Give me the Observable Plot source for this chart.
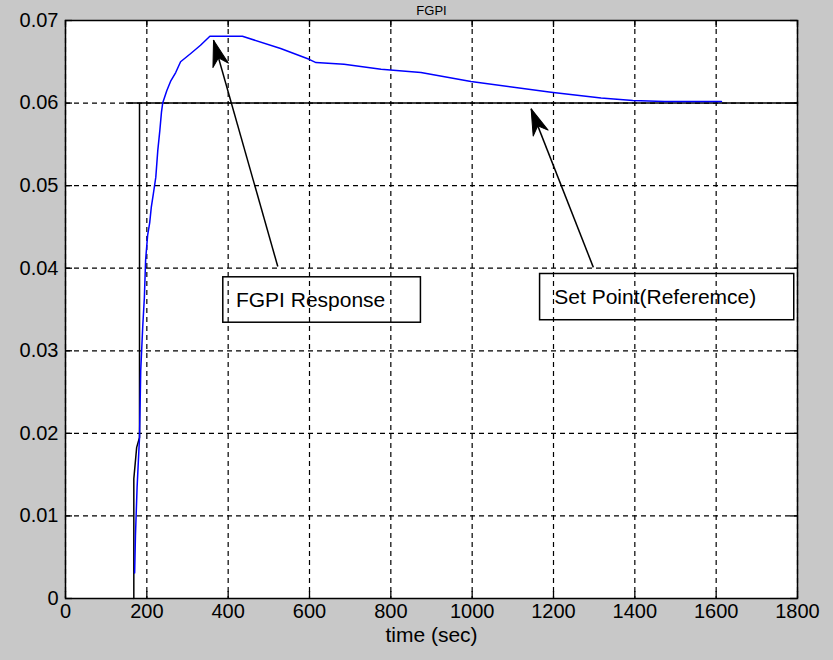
<!DOCTYPE html>
<html><head><meta charset="utf-8">
<script src="https://cdn.jsdelivr.net/npm/d3@7"></script>
<script src="https://cdn.jsdelivr.net/npm/@observablehq/plot@0.6"></script>
<style>
html,body{margin:0;padding:0;background:#c8c8c8;}
#chart{width:833px;height:660px;overflow:hidden;}
</style></head><body><div id="chart"></div>
<script>
// FGPI response (blue)
const responseTime  = [170, 172, 176, 182, 185, 190, 194, 197, 202, 207, 211, 216, 222, 227, 232, 236, 239, 249, 259, 271, 283, 308, 332, 355, 435, 529, 599, 616, 685, 776, 874, 997, 1194, 1317, 1395, 1473, 1613];
const responseValue = [0.0031, 0.0076, 0.0134, 0.0195, 0.0276, 0.033, 0.0365, 0.041, 0.044, 0.0455, 0.0474, 0.049, 0.051, 0.0543, 0.0567, 0.0589, 0.060, 0.0615, 0.0627, 0.0637, 0.0650, 0.066, 0.067, 0.0681, 0.0681, 0.0666, 0.0653, 0.0649, 0.0647, 0.0641, 0.0637, 0.0626, 0.0613, 0.0606, 0.0603, 0.0602, 0.0602];
// set point / reference (black)
const referenceTime  = [168, 168, 175, 182, 182, 150, 1800];
const referenceValue = [0, 0.0145, 0.0183, 0.0195, 0.06, 0.06, 0.06];
// axes
const xTicks = [0, 200, 400, 600, 800, 1000, 1200, 1400, 1600, 1800];
const yTicks = [0, 0.01, 0.02, 0.03, 0.04, 0.05, 0.06, 0.07];
const titleText = "FGPI";
const xLabelText = "time (sec)";
// annotations (data coordinates)
const noteText       = ["FGPI Response", "Set Point(Referemce)"];
const noteTipTime    = [364, 1145];
const noteTipValue   = [0.0676, 0.0593];
const noteTailTime   = [522, 1298];
const noteTailValue  = [0.0402, 0.0401];
const noteBoxTime1   = [388, 1167];
const noteBoxTime2   = [874, 1792];
const noteBoxValue1  = [0.0334, 0.0337];
const noteBoxValue2  = [0.0389, 0.0393];
const noteTextTime   = [419, 1202];

const W = 833, H = 660, mt = 20, mr = 36, mb = 62, ml = 65;
const innerW = W - ml - mr, innerH = H - mt - mb;

const response = responseTime.map((t, i) => ({t, v: responseValue[i]}));
const reference = referenceTime.map((t, i) => ({t, v: referenceValue[i]}));
const sx = d3.scaleLinear([0, 1800], [ml, W - mr]);
const sy = d3.scaleLinear([0, 0.07], [H - mb, mt]);
const notes = noteText.map((text, i) => {
  const dx = sx(noteTipTime[i]) - sx(noteTailTime[i]);
  const dy = sy(noteTipValue[i]) - sy(noteTailValue[i]);
  return {
    text,
    tipT: noteTipTime[i], tipV: noteTipValue[i],
    tailT: noteTailTime[i], tailV: noteTailValue[i],
    bx1: noteBoxTime1[i], bx2: noteBoxTime2[i], by1: noteBoxValue1[i], by2: noteBoxValue2[i],
    tx: noteTextTime[i], ty: (noteBoxValue1[i] + noteBoxValue2[i]) / 2,
    angle: Math.atan2(dx, -dy) * 180 / Math.PI
  };
});

const headShape = {
  draw(context, l, r) {
    context.moveTo(0, -l);
    context.lineTo(-r, 0);
    context.lineTo(0, -l * 0.3);
    context.lineTo(r, 0);
    context.closePath();
  }
};

function build(shape) {
  return Plot.plot({
    width: W, height: H,
    marginTop: mt, marginRight: mr, marginBottom: mb, marginLeft: ml,
    style: {background: "#c8c8c8", fontFamily: "Liberation Sans, Arial, sans-serif", fontSize: "20px", color: "black"},
    x: {domain: [0, 1800], axis: null},
    y: {domain: [0, 0.07], axis: null},
    marks: [
      Plot.frame({fill: "white", stroke: null}),
      Plot.gridX(xTicks, {stroke: "black", strokeOpacity: 1, strokeWidth: 1.2, strokeDasharray: "5,4"}),
      Plot.gridY(yTicks, {stroke: "black", strokeOpacity: 1, strokeWidth: 1.2, strokeDasharray: "5,4"}),
      Plot.tickX(xTicks, {x: d => d, insetTop: innerH - 7, stroke: "black", strokeWidth: 1.3}),
      Plot.tickX(xTicks, {x: d => d, insetBottom: innerH - 7, stroke: "black", strokeWidth: 1.3}),
      Plot.tickY(yTicks, {y: d => d, insetRight: innerW - 7, stroke: "black", strokeWidth: 1.3}),
      Plot.tickY(yTicks, {y: d => d, insetLeft: innerW - 7, stroke: "black", strokeWidth: 1.3}),
      Plot.axisX(xTicks, {tickSize: 0, tickPadding: 5, fontSize: 20, label: null, fill: "black", tickFormat: d => String(d)}),
      Plot.axisY(yTicks, {tickSize: 0, tickPadding: 7, fontSize: 20, label: null, fill: "black", tickFormat: d => d === 0 ? "0" : d3.format(".2f")(d)}),
      Plot.line(reference, {x: "t", y: "v", stroke: "black", strokeWidth: 1.5}),
      Plot.line(response, {x: "t", y: "v", stroke: "#0000ff", strokeWidth: 1.5}),
      Plot.rect(notes, {x1: "bx1", x2: "bx2", y1: "by1", y2: "by2", fill: "none", stroke: "black", strokeWidth: 1.5}),
      Plot.text(notes, {x: "tx", y: "ty", text: "text", textAnchor: "start", fontSize: 21, fill: "black"}),
      Plot.link(notes, {x1: "tailT", y1: "tailV", x2: "tipT", y2: "tipV", stroke: "black", strokeWidth: 1.5}),
      shape
        ? Plot.vector(notes, {x: "tipT", y: "tipV", rotate: "angle", length: 26, r: 8, anchor: "end", shape, fill: "black", stroke: "black", strokeWidth: 1})
        : Plot.arrow(notes, {x1: "tailT", y1: "tailV", x2: "tipT", y2: "tipV", stroke: "black", strokeWidth: 3, headLength: 14}),
      Plot.frame({stroke: "black", strokeWidth: 1.5}),
      Plot.text([xLabelText], {frameAnchor: "bottom", dy: 43, text: d => d, fontSize: 21, fill: "black"}),
      Plot.text([titleText], {frameAnchor: "top", lineAnchor: "bottom", dy: -6, text: d => d, fontSize: 13, fill: "black"})
    ]
  });
}

let chart;
try { chart = build(headShape); } catch (e) {
  try { chart = build("spike"); } catch (e2) { chart = build(null); }
}
document.getElementById("chart").appendChild(chart);
</script>
</body></html>
